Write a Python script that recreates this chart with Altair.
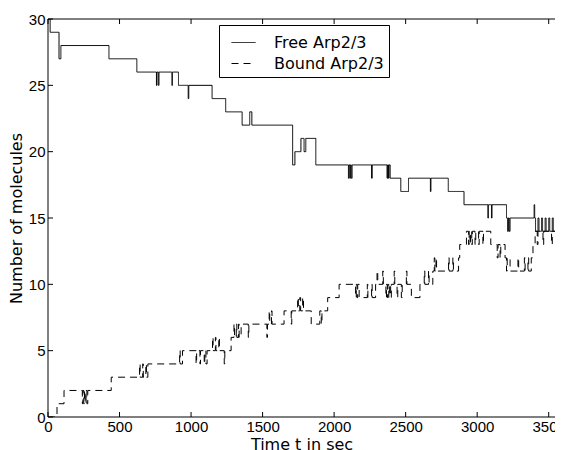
import altair as alt
import pandas as pd

# Free Arp2/3 (step-after): time in sec, number of molecules
free_t = [0, 15, 77, 90, 426, 621, 758, 762, 772, 776, 866, 870, 912, 980, 984,
          1147, 1242, 1357, 1410, 1425, 1710, 1726, 1768, 1790, 1802, 1872,
          2100, 2104, 2110, 2114, 2120, 2126, 2262, 2266, 2370, 2374, 2380, 2384,
          2392, 2466, 2520, 2673, 2677, 2798, 2908, 3075, 3079, 3100, 3104, 3205,
          3212, 3218, 3224, 3230, 3398, 3402, 3408, 3425, 3432, 3450, 3457, 3475,
          3482, 3500, 3507, 3525, 3532, 3550, 3557, 3575, 3582, 3600]
free_v = [30, 29, 27, 28, 27, 26, 25, 26, 25, 26, 25, 26, 25, 24, 25,
          24, 23, 22, 23, 22, 19, 20, 21, 20, 21, 19,
          18, 19, 18, 19, 18, 19, 18, 19, 18, 19, 18, 19,
          18, 17, 18, 17, 18, 17, 16, 15, 16, 15, 16, 15,
          14, 15, 14, 15, 16, 15, 14, 15, 14, 15, 14, 15,
          14, 15, 14, 15, 14, 15, 14, 15, 14, 14]

# Bound Arp2/3 (step-after)
bound_t = [0, 63, 112, 240, 244, 250, 255, 260, 266, 272, 278, 442, 640, 644, 662,
           666, 684, 688, 698, 920, 924, 940, 1035, 1039, 1062, 1066, 1092, 1096,
           1104, 1112, 1150, 1154, 1170, 1174, 1194, 1198, 1232, 1236, 1280, 1300,
           1304, 1316, 1320, 1332, 1336, 1350, 1400, 1404, 1530, 1534, 1546, 1550,
           1562, 1566, 1650, 1700, 1704, 1745, 1750, 1760, 1766, 1780, 1786, 1840,
           1900, 1910, 1915, 1955, 2035, 2150, 2155, 2160, 2165, 2175, 2232, 2236,
           2262, 2266, 2290, 2300, 2305, 2340, 2344, 2362, 2366, 2372, 2376, 2382,
           2388, 2395, 2400, 2420, 2424, 2440, 2445, 2470, 2476, 2505, 2509, 2540,
           2600, 2630, 2634, 2660, 2664, 2690, 2700, 2704, 2712, 2716, 2800, 2804,
           2830, 2834, 2870, 2878, 2925, 2940, 2944, 2950, 2954, 2962, 2966, 2985,
           2990, 3010, 3014, 3040, 3044, 3095, 3140, 3146, 3160, 3165, 3195, 3205,
           3210, 3230, 3285, 3290, 3330, 3335, 3355, 3360, 3378, 3390, 3405, 3420,
           3425, 3460, 3465, 3520, 3525, 3560, 3565, 3600]
bound_v = [0, 1, 2, 1, 2, 1, 2, 1, 2, 1, 2, 3, 4, 3, 4,
           3, 4, 3, 4, 5, 4, 5, 4, 5, 4, 5, 4, 5,
           4, 5, 6, 5, 6, 5, 6, 5, 4, 5, 6, 7,
           6, 7, 6, 7, 6, 7, 6, 7, 6, 7, 8, 7,
           8, 7, 8, 7, 8, 9, 8, 9, 8, 9, 8, 7,
           8, 7, 8, 9, 10, 9, 10, 9, 10, 9, 10, 9,
           10, 9, 10, 11, 10, 11, 10, 9, 10, 9, 10, 9,
           10, 9, 10, 11, 10, 9, 10, 9, 10, 11, 10, 9,
           10, 11, 10, 11, 10, 11, 12, 11, 12, 11, 12, 11,
           12, 11, 12, 13, 14, 13, 14, 13, 14, 13, 14, 13,
           14, 13, 14, 13, 14, 13, 12, 13, 12, 13, 12, 11,
           12, 11, 12, 11, 12, 11, 12, 11, 12, 13, 14, 13,
           14, 13, 14, 13, 14, 13, 14, 14]

series_names = ["Free Arp2/3", "Bound Arp2/3"]
x_ticks = [0, 500, 1000, 1500, 2000, 2500, 3000, 3500]
y_ticks = [0, 5, 10, 15, 20, 25, 30]

rows = []
for i, (t, v) in enumerate(zip(free_t, free_v)):
    rows.append({"t": t, "v": v, "series": series_names[0], "i": i})
for i, (t, v) in enumerate(zip(bound_t, bound_v)):
    rows.append({"t": t, "v": v, "series": series_names[1], "i": i})
df = pd.DataFrame(rows)

# the original axis runs to 3600 s just at the picture's right edge; the page
# margin leaves room for the first ~3544 s at the same pixel scale
W, H = 507, 398
X_MAX = 3544
TICK_FONT = "Liberation Sans"
TITLE_FONT = "DejaVu Sans"

xs = alt.Scale(domain=[0, X_MAX], nice=False)
ys = alt.Scale(domain=[0, 30], nice=False)

lines = alt.Chart(df).mark_line(interpolate="step-after", color="black", strokeWidth=1,
                                clip=True).encode(
    x=alt.X("t:Q", scale=xs,
            axis=alt.Axis(values=x_ticks, format="d", title="Time t in sec", tickSize=0,
                          domain=False, grid=False, labelPadding=2, titlePadding=2,
                          labelFlush=False)),
    y=alt.Y("v:Q", scale=ys,
            axis=alt.Axis(values=y_ticks, format="d", title="Number of molecules", tickSize=0,
                          domain=False, grid=False, labelPadding=3, titlePadding=4)),
    strokeDash=alt.StrokeDash("series:N",
                              scale=alt.Scale(domain=series_names, range=[[1, 0], [7, 5]]),
                              legend=alt.Legend(title=None, orient="none", legendX=171, legendY=6,
                                                symbolType="stroke", symbolSize=576,
                                                symbolStrokeWidth=1, symbolStrokeColor="black",
                                                symbolOffset=7,
                                                labelFontSize=16, labelFont=TITLE_FONT,
                                                labelColor="black",
                                                labelOffset=18, padding=5, rowPadding=0,
                                                strokeColor="black", fillColor="white",
                                                labelLimit=220)),
    order="i:Q",
)

xt = pd.DataFrame({"t": x_ticks})
yt = pd.DataFrame({"v": y_ticks})
one = pd.DataFrame({"a": [0]})

tick_b = alt.Chart(xt).mark_rule(color="black", strokeWidth=1).encode(
    x=alt.X("t:Q", scale=xs), y=alt.value(H), y2=alt.value(H - 5))
tick_t = alt.Chart(xt).mark_rule(color="black", strokeWidth=1).encode(
    x=alt.X("t:Q", scale=xs), y=alt.value(0), y2=alt.value(5))
tick_l = alt.Chart(yt).mark_rule(color="black", strokeWidth=1).encode(
    y=alt.Y("v:Q", scale=ys), x=alt.value(0), x2=alt.value(5))

frame_top = alt.Chart(one).mark_rule(color="black", strokeWidth=1).encode(
    x=alt.value(0), x2=alt.value(W), y=alt.value(0))
frame_bottom = alt.Chart(one).mark_rule(color="black", strokeWidth=1).encode(
    x=alt.value(0), x2=alt.value(W), y=alt.value(H))
frame_left = alt.Chart(one).mark_rule(color="black", strokeWidth=1).encode(
    x=alt.value(0), y=alt.value(0), y2=alt.value(H))

chart = alt.layer(lines, tick_b, tick_t, tick_l, frame_top, frame_bottom, frame_left).properties(
    width=W, height=H,
    autosize=alt.AutoSizeParams(type="none"),
    padding={"left": 40, "top": 11, "right": 0, "bottom": 33},
).configure_view(stroke=None).configure_axis(
    labelFont=TICK_FONT, titleFont=TITLE_FONT, labelFontSize=15, titleFontSize=16,
    labelColor="black", titleColor="black", titleFontWeight="normal"
)

chart.save("out.html", embed_options={"renderer": "svg", "actions": False})
